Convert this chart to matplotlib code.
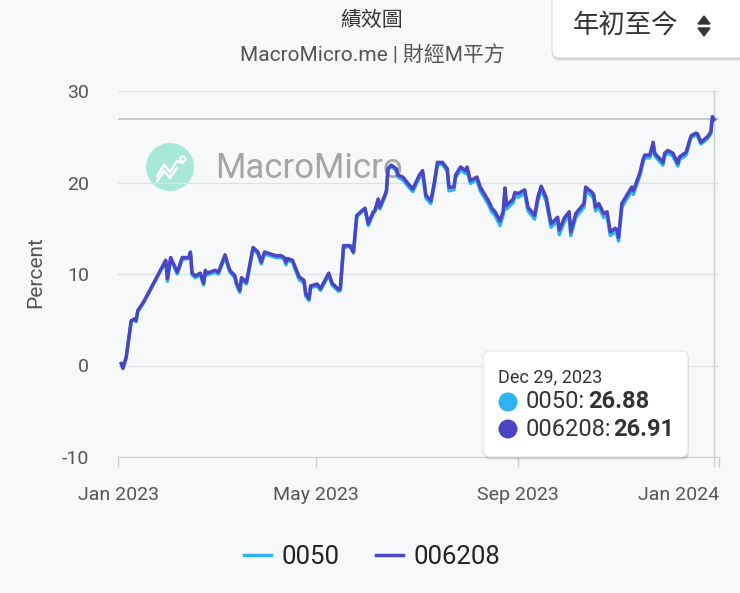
import matplotlib
matplotlib.use("Agg")
import matplotlib.pyplot as plt
import matplotlib.dates as mdates
from matplotlib.patches import FancyBboxPatch, Circle, Polygon
import pandas as pd

plt.rcParams["font.family"] = ["Roboto", "Noto Sans CJK TC", "DejaVu Sans"]
plt.rcParams["axes.unicode_minus"] = False

# 日付（読み取り値）
dates = [
    "2023-01-03", "2023-01-04", "2023-01-06", "2023-01-09", "2023-01-11", "2023-01-12",
    "2023-01-13", "2023-01-16", "2023-01-17", "2023-01-30", "2023-01-31",
    "2023-02-02", "2023-02-06", "2023-02-09", "2023-02-13", "2023-02-14", "2023-02-15",
    "2023-02-17", "2023-02-20", "2023-02-22", "2023-02-23", "2023-02-24",
    "2023-03-01", "2023-03-03", "2023-03-07", "2023-03-09", "2023-03-10", "2023-03-13",
    "2023-03-14", "2023-03-16", "2023-03-17", "2023-03-20", "2023-03-24", "2023-03-27",
    "2023-03-29", "2023-03-31",
    "2023-04-07", "2023-04-10", "2023-04-12", "2023-04-13", "2023-04-14", "2023-04-17",
    "2023-04-19", "2023-04-21", "2023-04-24", "2023-04-25", "2023-04-27", "2023-04-28",
    "2023-05-02", "2023-05-04", "2023-05-09", "2023-05-11", "2023-05-15", "2023-05-16",
    "2023-05-18", "2023-05-22", "2023-05-24", "2023-05-26", "2023-05-31",
    "2023-06-02", "2023-06-05", "2023-06-06", "2023-06-08", "2023-06-09", "2023-06-12",
    "2023-06-13", "2023-06-14", "2023-06-16", "2023-06-19", "2023-06-20", "2023-06-23",
    "2023-06-27", "2023-06-29",
    "2023-07-03", "2023-07-05", "2023-07-07", "2023-07-10", "2023-07-12", "2023-07-14",
    "2023-07-17", "2023-07-20", "2023-07-21", "2023-07-24", "2023-07-25", "2023-07-28",
    "2023-07-31",
    "2023-08-01", "2023-08-03", "2023-08-07", "2023-08-09", "2023-08-14", "2023-08-16",
    "2023-08-18", "2023-08-21", "2023-08-23", "2023-08-24", "2023-08-25", "2023-08-29",
    "2023-08-30",
    "2023-09-01", "2023-09-05", "2023-09-07", "2023-09-11", "2023-09-13", "2023-09-15",
    "2023-09-18", "2023-09-21", "2023-09-25", "2023-09-26", "2023-09-29",
    "2023-10-02", "2023-10-03", "2023-10-06", "2023-10-11", "2023-10-12", "2023-10-16",
    "2023-10-17", "2023-10-18", "2023-10-20", "2023-10-23", "2023-10-25", "2023-10-27",
    "2023-10-30", "2023-10-31",
    "2023-11-01", "2023-11-03", "2023-11-06", "2023-11-09", "2023-11-10", "2023-11-14",
    "2023-11-16", "2023-11-17", "2023-11-20", "2023-11-22", "2023-11-23", "2023-11-24",
    "2023-11-28", "2023-11-29",
    "2023-12-01", "2023-12-04", "2023-12-07", "2023-12-08", "2023-12-12", "2023-12-15",
    "2023-12-18", "2023-12-19", "2023-12-21", "2023-12-25", "2023-12-27", "2023-12-28",
    "2023-12-29",
]

etf_0050 = [
    0.2, -0.3, 0.9, 4.8, 5.0, 4.8, 5.9, 6.7, 7.0, 11.4, 9.2,
    11.7, 10.0, 11.6, 11.7, 12.3, 9.9, 9.6, 9.9, 8.8, 10.2, 9.9,
    10.2, 10.0, 11.9, 10.7, 10.2, 9.6, 8.8, 8.0, 9.4, 8.9, 12.7, 12.2, 11.1, 12.2,
    11.8, 11.8, 11.6, 11.0, 11.5, 11.3, 10.3, 9.4, 9.0, 7.6, 7.1, 8.5,
    8.7, 8.2, 9.9, 8.8, 8.1, 8.2, 12.9, 13.0, 12.3, 16.3, 17.1,
    15.3, 16.6, 16.8, 18.0, 17.1, 18.4, 18.9, 21.4, 21.8, 21.3, 20.6, 20.3, 19.4, 19.0,
    20.5, 21.0, 18.3, 17.7, 19.6, 21.9, 22.0, 21.2, 19.1, 19.2, 20.5, 21.4, 21.0,
    21.4, 19.9, 20.3, 19.1, 17.6, 16.8, 16.4, 15.3, 16.5, 19.0, 17.1, 17.8, 18.5,
    18.4, 18.8, 16.9, 16.0, 18.0, 19.2, 18.0, 15.1, 15.8, 14.3, 15.7,
    16.4, 14.2, 16.2, 17.3, 19.1, 18.5, 18.2, 16.9, 17.3, 16.2, 16.4, 14.2, 14.6, 14.4,
    13.6, 17.3, 18.2, 19.1, 18.7, 20.8, 22.3, 22.7, 22.7, 24.1, 22.9, 22.7, 21.9, 22.9,
    23.2, 22.9, 21.8, 22.5, 23.0, 24.9, 25.2, 25.1, 24.2, 24.8, 25.3, 27.1, 26.88,
]

etf_006208 = [
    0.2, -0.3, 0.9, 4.9, 5.1, 4.9, 6.0, 6.8, 7.1, 11.5, 9.5,
    11.8, 10.2, 11.8, 11.8, 12.4, 10.1, 9.8, 10.1, 9.0, 10.4, 10.1,
    10.4, 10.2, 12.1, 10.9, 10.4, 9.8, 9.0, 8.2, 9.6, 9.1, 12.9, 12.4, 11.3, 12.4,
    12.0, 12.0, 11.8, 11.3, 11.7, 11.5, 10.6, 9.7, 9.3, 7.9, 7.3, 8.7,
    8.9, 8.4, 10.1, 9.0, 8.3, 8.4, 13.1, 13.1, 12.4, 16.4, 17.2,
    15.5, 16.8, 16.9, 18.2, 17.3, 18.6, 19.1, 21.5, 21.9, 21.5, 20.8, 20.6, 19.7, 19.3,
    20.8, 21.3, 18.6, 18.0, 19.9, 22.2, 22.2, 21.5, 19.5, 19.5, 20.8, 21.7, 21.3,
    21.7, 20.2, 20.6, 19.5, 18.0, 17.2, 16.8, 15.8, 16.9, 19.4, 17.5, 18.2, 18.9,
    18.8, 19.2, 17.3, 16.4, 18.4, 19.6, 18.4, 15.5, 16.2, 14.8, 16.1,
    16.8, 14.6, 16.6, 17.7, 19.5, 18.9, 18.6, 17.3, 17.7, 16.6, 16.8, 14.6, 15.0, 14.8,
    14.0, 17.7, 18.6, 19.5, 19.1, 21.1, 22.6, 23.0, 23.0, 24.4, 23.2, 23.0, 22.2, 23.2,
    23.5, 23.2, 22.1, 22.8, 23.3, 25.1, 25.4, 25.3, 24.4, 25.0, 25.5, 27.2, 26.91,
]

x_ticks = ["2023-01-01", "2023-05-01", "2023-09-01", "2024-01-01"]
y_ticks = [-10, 0, 10, 20, 30]

x = pd.to_datetime(dates)

bg_color = "#f7f8fa"
c_0050 = "#2db3f0"
c_006208 = "#4a45c2"
W, H = 740, 593

fig = plt.figure(figsize=(7.4, 5.93), dpi=100, facecolor=bg_color)

# 背景（ウォーターマーク）
bg = fig.add_axes([0, 0, 1, 1], zorder=0)
bg.set_xlim(0, W)
bg.set_ylim(H, 0)
bg.axis("off")
bg.add_patch(Circle((170, 167), 24, color="#a8e8d8", lw=0))
bg.plot([157, 164, 170, 177, 183], [176, 165, 172, 161, 163], color="white", lw=1.8,
        solid_capstyle="round")
bg.plot([157, 164, 170, 177], [181, 171, 178, 168], color="white", lw=1.8,
        solid_capstyle="round")
bg.add_patch(Circle((183, 159), 2.6, fc="none", ec="white", lw=1.5))
bg.text(215, 168, "MacroMicro", fontsize=25, color="#9c9c9c", alpha=0.9,
        ha="left", va="center")

# メインの軸
ax = fig.add_axes([118 / W, 1 - 457 / H, 601 / W, 366 / H], zorder=1)
ax.set_facecolor("none")

line1, = ax.plot(x, etf_0050, color=c_0050, lw=2.5, label="0050", zorder=3)
line2, = ax.plot(x, etf_006208, color=c_006208, lw=2.5, label="006208", zorder=4)

ax.set_xlim(pd.Timestamp("2023-01-01"), pd.Timestamp("2024-01-01"))
ax.set_ylim(-10, 30)
ax.set_xticks(pd.to_datetime(x_ticks))
ax.xaxis.set_major_formatter(mdates.DateFormatter("%b %Y"))
ax.set_yticks(y_ticks)

for s in ["top", "right", "left"]:
    ax.spines[s].set_visible(False)
ax.spines["bottom"].set_color("#cfcfcf")
ax.yaxis.grid(True, color="#e2e2e2", lw=1)
ax.set_axisbelow(True)
ax.tick_params(axis="x", length=7, width=1, color="#cfcfcf", labelcolor="#555555",
               labelsize=14, pad=14)
ax.tick_params(axis="y", length=0, labelcolor="#555555", labelsize=14, pad=21)
# 右端のラベルは枠内に収める
ax.xaxis.get_major_ticks()[-1].label1.set_horizontalalignment("right")

# カーソル線
ax.axhline(etf_006208[-1], color="#c2c2c2", lw=1.2, zorder=2)
ax.axvline(x[-1], ymin=-0.025, ymax=1, color="#cccccc", lw=1, zorder=2, clip_on=False)

fig.text(36 / W, 1 - 272 / H, "Percent", rotation=90, ha="center", va="center",
         fontsize=15, color="#555555")

fig.text(372 / W, 1 - 20 / H, "績效圖", ha="center", va="center", fontsize=15,
         color="#333333")
fig.text(372 / W, 1 - 55 / H, "MacroMicro.me | 財經M平方", ha="center", va="center",
         fontsize=15, color="#555555")

fig.legend([line1, line2], ["0050", "006208"], loc="center",
           bbox_to_anchor=(372 / W, 1 - 557 / H), ncol=2, frameon=False, fontsize=18.5,
           handlelength=1.05, handletextpad=0.42, columnspacing=1.4,
           labelcolor="#222222")

# 前面（ツールチップ・ボタン）
fo = fig.add_axes([0, 0, 1, 1], zorder=5)
fo.set_xlim(0, W)
fo.set_ylim(H, 0)
fo.axis("off")

for off, a in [(3, 0.06), (2, 0.08), (1, 0.1)]:
    fo.add_patch(FancyBboxPatch((483 + off * 0.3, 351 + off), 205, 106,
                                boxstyle="round,pad=0,rounding_size=7",
                                fc="black", ec="none", alpha=a))
fo.add_patch(FancyBboxPatch((483, 351), 205, 106, boxstyle="round,pad=0,rounding_size=7",
                            fc="white", ec="#e4e4e4", lw=0.8))
fo.text(498, 377, "Dec 29, 2023", fontsize=13, color="#333333", va="center", ha="left")
fo.add_patch(Circle((508, 402), 9.5, color=c_0050, lw=0))
fo.add_patch(Circle((508, 429), 9.5, color=c_006208, lw=0))
fo.text(526, 402, "0050:", fontsize=17, color="#333333", va="center", ha="left")
fo.text(588, 402, f"{etf_0050[-1]:.2f}", fontsize=17, fontweight="bold", color="#333333",
        va="center", ha="left")
fo.text(526, 429, "006208:", fontsize=17, color="#333333", va="center", ha="left")
fo.text(613, 429, f"{etf_006208[-1]:.2f}", fontsize=17, fontweight="bold", color="#333333",
        va="center", ha="left")

# 期間選択ボタン
for off, a in [(3, 0.05), (2, 0.07), (1, 0.09)]:
    fo.add_patch(FancyBboxPatch((552, -10 + off), 200, 68,
                                boxstyle="round,pad=0,rounding_size=8",
                                fc="black", ec="none", alpha=a))
fo.add_patch(FancyBboxPatch((552, -10), 200, 68, boxstyle="round,pad=0,rounding_size=8",
                            fc="white", ec="#dddddd", lw=0.8))
fo.text(573, 25, "年初至今", fontsize=19, color="#333333", va="center", ha="left")
fo.add_patch(Polygon([(698, 24), (710, 24), (704, 16)], closed=True, color="#333333"))
fo.add_patch(Polygon([(698, 28), (710, 28), (704, 36)], closed=True, color="#333333"))

fig.savefig("out.png", dpi=100, facecolor=bg_color)
